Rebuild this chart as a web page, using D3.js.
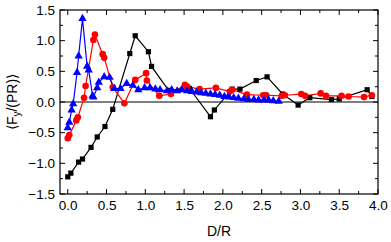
<!DOCTYPE html>
<html><head><meta charset="utf-8">
<script src="https://cdn.jsdelivr.net/npm/d3@7"></script>
<style>body{margin:0;background:#fff}svg{display:block}text{font-family:"Liberation Sans",Arial,sans-serif}</style>
</head><body><svg id="c" width="391" height="242"></svg>
<script>
const xTicks = [0, 0.5, 1.0, 1.5, 2.0, 2.5, 3.0, 3.5, 4.0];
const yTicks = [-1.5, -1.0, -0.5, 0.0, 0.5, 1.0, 1.5];
const blackSeries = [[0.00,-1.22],[0.04,-1.16],[0.14,-0.98],[0.19,-0.93],[0.30,-0.74],[0.38,-0.57],[0.48,-0.40],[0.58,-0.12],[0.80,0.79],[0.87,1.08],[1.04,0.82],[1.08,0.58],[1.30,0.19],[1.57,0.22],[1.84,-0.24],[1.89,-0.13],[2.12,0.21],[2.22,0.21],[2.43,0.35],[2.57,0.41],[2.77,0.13],[2.97,-0.05],[3.12,0.07],[3.40,0.04],[3.50,0.05],[3.86,0.20],[3.92,0.09]];
const redSeries = [[0.00,-0.59],[0.02,-0.54],[0.11,-0.30],[0.13,-0.25],[0.21,0.07],[0.23,0.26],[0.33,1.01],[0.35,1.10],[0.45,0.78],[0.47,0.72],[0.58,0.24],[0.73,-0.02],[0.87,0.36],[1.01,0.47],[1.02,0.35],[1.18,0.10],[1.33,0.13],[1.51,0.28],[1.54,0.25],[1.70,0.21],[1.91,0.23],[2.09,0.17],[2.12,0.20],[2.31,0.12],[2.52,0.11],[2.56,0.11],[2.76,0.10],[2.80,0.11],[3.01,0.13],[3.06,0.10],[3.26,0.14],[3.33,0.10],[3.53,0.10],[3.62,0.09],[3.82,0.08],[3.92,0.11]];
const blueSeries = [[0.00,-0.42],[0.02,-0.33],[0.05,-0.13],[0.07,-0.03],[0.12,0.48],[0.14,0.75],[0.19,1.36],[0.25,0.58],[0.27,0.52],[0.32,0.10],[0.33,0.08],[0.38,0.23],[0.40,0.32],[0.47,0.41],[0.54,0.40],[0.60,0.22],[0.68,0.22],[0.76,0.30],[0.84,0.27],[0.91,0.20],[0.99,0.23],[1.06,0.23],[1.13,0.21],[1.19,0.20],[1.28,0.18],[1.34,0.20],[1.41,0.18],[1.47,0.20],[1.54,0.18],[1.60,0.17],[1.66,0.16],[1.72,0.15],[1.78,0.14],[1.84,0.13],[1.90,0.12],[1.96,0.11],[2.02,0.09],[2.08,0.08],[2.14,0.07],[2.20,0.06],[2.27,0.05],[2.33,0.04],[2.40,0.04],[2.46,0.03],[2.53,0.03],[2.59,0.03],[2.65,0.02],[2.72,0.01]];

const L=60,R=378,T=10,B=194;
const x=d3.scaleLinear().domain([-0.1,4.0]).range([L,R]);
const y=d3.scaleLinear().domain([-1.5,1.5]).range([B,T]);
const svg=d3.select("#c");
const fmt=d3.format(".1f");
const xMinor=d3.range(0,4.001,0.25), yMinor=d3.range(-1.5,1.501,0.25);

// minor ticks
const ax=svg.append("g").attr("stroke","#000").attr("stroke-width",1);
function isMajor(v){return Math.abs(v*2-Math.round(v*2))<1e-6;}
xMinor.forEach(v=>{const len=isMajor(v)?5:3;
  ax.append("line").attr("x1",x(v)).attr("x2",x(v)).attr("y1",B).attr("y2",B-len);
  ax.append("line").attr("x1",x(v)).attr("x2",x(v)).attr("y1",T).attr("y2",T+len);});
yMinor.forEach(v=>{const len=isMajor(v)?5:3;
  ax.append("line").attr("y1",y(v)).attr("y2",y(v)).attr("x1",L).attr("x2",L+len);
  ax.append("line").attr("y1",y(v)).attr("y2",y(v)).attr("x1",R).attr("x2",R-len);});

// axes with labels
svg.append("g").attr("transform",`translate(0,${B})`)
  .call(d3.axisBottom(x).tickValues(xTicks).tickFormat(fmt).tickSize(0).tickPadding(6))
  .call(g=>{g.select(".domain").remove();g.selectAll("text").attr("font-size",13.5).attr("fill","#000").attr("font-family","Liberation Sans, Arial");});
svg.append("g").attr("transform",`translate(${L},0)`)
  .call(d3.axisLeft(y).tickValues(yTicks).tickFormat(fmt).tickSize(0).tickPadding(5))
  .call(g=>{g.select(".domain").remove();g.selectAll("text").attr("font-size",13.5).attr("fill","#000").attr("font-family","Liberation Sans, Arial");});

// zero line
svg.append("line").attr("x1",L).attr("x2",R).attr("y1",y(0)).attr("y2",y(0)).attr("stroke","#000").attr("stroke-width",1.2);

const line=d3.line().x(d=>x(d[0])).y(d=>y(d[1]));
function series(data,color){
  svg.append("path").datum(data).attr("d",line).attr("fill","none").attr("stroke",color).attr("stroke-width",1.2);
}
series(blackSeries,"#000");
series(redSeries,"#f00");
series(blueSeries,"#00f");
svg.append("g").selectAll("rect").data(blackSeries).join("rect")
  .attr("x",d=>x(d[0])-2.6).attr("y",d=>y(d[1])-2.6).attr("width",5.2).attr("height",5.2).attr("fill","#000");
svg.append("g").selectAll("circle").data(redSeries).join("circle")
  .attr("cx",d=>x(d[0])).attr("cy",d=>y(d[1])).attr("r",3.3).attr("fill","#f00");
const tri=d3.symbol().type(d3.symbolTriangle).size(30);
svg.append("g").selectAll("path").data(blueSeries).join("path")
  .attr("d",tri).attr("transform",d=>`translate(${x(d[0])},${y(d[1])})`).attr("fill","#00f");

// frame
svg.append("rect").attr("x",L).attr("y",T).attr("width",R-L).attr("height",B-T).attr("fill","none").attr("stroke","#000").attr("stroke-width",1.2);

// titles
svg.append("text").attr("x",(L+R)/2).attr("y",236).attr("text-anchor","middle").attr("font-size",14).text("D/R");
const yt=svg.append("text").attr("transform",`translate(17,${(T+B)/2}) rotate(-90)`).attr("text-anchor","middle").attr("font-size",14);
yt.append("tspan").text("\u27E8F");
yt.append("tspan").attr("font-size",10).attr("dy",3).text("y");
yt.append("tspan").attr("dy",-3).text("/(PR)\u27E9");
</script></body></html>
